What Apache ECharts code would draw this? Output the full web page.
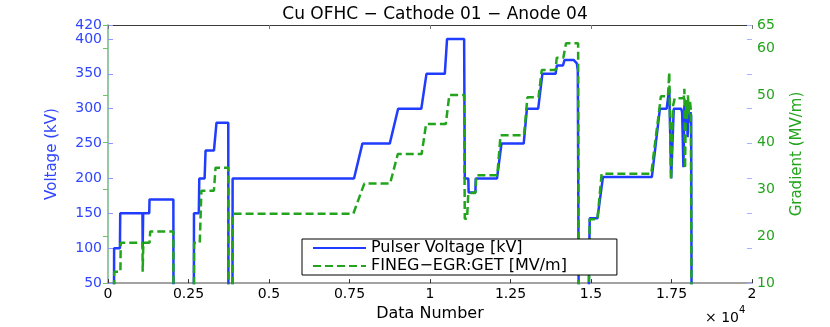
<!DOCTYPE html>
<html>
<head>
<meta charset="utf-8">
<script src="https://cdn.jsdelivr.net/npm/echarts@6/dist/echarts.min.js"></script>
<style>
  html, body { margin: 0; padding: 0; background: #fff; }
  #chart { width: 830px; height: 327px; }
</style>
</head>
<body>
<div id="chart"></div>
<script>
// data numbers (x) and values
const voltageX = [0, 185, 190, 370, 380, 1070, 1077, 1085, 1092, 1280, 1290, 2030, 2035, 2665, 2670, 2820, 2835, 3000, 3030, 3290, 3370, 3735, 3740, 3865, 3870, 7640, 7900, 8750, 9010, 9730, 9890, 10460, 10530, 11060, 11080, 11190, 11200, 11410, 11420, 12080, 12220, 12910, 13010, 13360, 13490, 13900, 13940, 14130, 14180, 14460, 14560, 14590, 14620, 14920, 14960, 15200, 15370, 16890, 17140, 17350, 17430, 17490, 17570, 17800, 17830, 17870, 17900, 17940, 17970, 18000, 18030, 18060, 18090, 18110, 18125];
const voltageKV = [0, 0, 100, 100, 150, 150, 100, 100, 150, 150, 170, 170, 0, 0, 150, 150, 200, 200, 240, 240, 280, 280, 0, 0, 200, 200, 250, 250, 300, 300, 350, 350, 400, 400, 200, 200, 180, 180, 200, 200, 250, 250, 300, 300, 350, 350, 362, 362, 370, 370, 365, 355, 0, 0, 143, 143, 202, 202, 300, 300, 329, 200, 300, 300, 295, 216, 305, 270, 300, 259, 300, 280, 295, 290, 0];

const gradientX = [0, 185, 192, 385, 395, 1070, 1077, 1090, 1097, 1290, 1310, 2030, 2035, 2665, 2675, 2850, 2900, 3290, 3340, 3735, 3740, 3865, 3870, 7620, 7960, 8760, 9000, 9740, 9880, 10490, 10600, 11060, 11080, 11150, 11190, 11410, 11440, 12090, 12190, 12920, 13025, 13370, 13470, 13900, 13935, 14140, 14225, 14600, 14620, 14920, 14960, 15200, 15330, 16870, 17130, 17170, 17390, 17430, 17485, 17550, 17600, 17880, 17900, 17920, 17950, 17980, 18010, 18040, 18070, 18100, 18125];
const gradientMV = [0, 0, 12.4, 12.4, 18.6, 18.6, 12.4, 12.4, 18.6, 18.6, 21, 21, 0, 0, 18.6, 18.6, 29.7, 29.7, 34.6, 34.6, 0, 0, 24.8, 24.8, 31.2, 31.2, 37.5, 37.5, 43.9, 43.9, 50.1, 50.1, 23.7, 23.7, 29.2, 29.2, 33, 33, 41.5, 41.5, 49.6, 49.6, 55.4, 55.4, 58, 58, 61.1, 61.1, 0, 0, 23.6, 23.6, 33.3, 33.3, 47.5, 49.8, 49.8, 54.9, 32, 47.8, 49.4, 49.4, 51.4, 34.4, 49, 45, 50, 46, 49, 47, 0];

const xTickStep = 2500;
const voltageTicks = { min: 50, max: 420, step: 50 };
const gradientTicks = { min: 10, max: 65, step: 10 };

const BLUE = '#1f3cff';
const GREEN = '#22a51c';
const FONT = 'DejaVu Sans';

const zip = (xs, ys) => xs.map((x, i) => [x, ys[i]]);

const chart = echarts.init(document.getElementById('chart'));

const option = {
  animation: false,
  backgroundColor: '#fff',
  title: {
    text: 'Cu OFHC \u2212 Cathode 01 \u2212 Anode 04',
    left: 430,
    top: 1,
    textAlign: 'center',
    textStyle: { fontFamily: FONT, fontSize: 17, fontWeight: 'normal', color: '#000' }
  },
  grid: { left: 108, right: 78, top: 25, bottom: 36 },
  legend: {
    orient: 'vertical',
    left: 302,
    top: 239,
    padding: [1, 50, 1, 10],
    itemGap: 2,
    itemWidth: 53,
    itemHeight: 14,
    backgroundColor: '#fff',
    borderColor: '#000',
    borderWidth: 1,
    borderRadius: 0,
    itemStyle: { opacity: 0 },
    textStyle: { fontFamily: FONT, fontSize: 16, color: '#000' },
    data: ['Pulser Voltage [kV]', 'FINEG\u2212EGR:GET [MV/m]']
  },
  xAxis: [
    {
      type: 'value',
      position: 'bottom',
      min: 0,
      max: 20000,
      interval: xTickStep,
      name: 'Data Number',
      nameLocation: 'middle',
      nameGap: 15,
      nameTextStyle: { fontFamily: FONT, fontSize: 16, color: '#000' },
      axisLine: { lineStyle: { color: '#858585', width: 1.5 } },
      axisTick: { inside: true, length: 4, lineStyle: { color: '#333' } },
      axisLabel: {
        margin: 4,
        fontFamily: FONT,
        fontSize: 14,
        color: '#000',
        formatter: v => String(v / 10000)
      },
      splitLine: { show: false }
    },
    {
      type: 'value',
      position: 'top',
      min: 0,
      max: 20000,
      interval: 5000,
      axisLine: { lineStyle: { color: '#3a3a3a', width: 1 } },
      axisTick: { inside: true, length: 4, lineStyle: { color: '#777' } },
      axisLabel: { show: false },
      splitLine: { show: false }
    }
  ],
  yAxis: [
    {
      type: 'value',
      position: 'left',
      min: voltageTicks.min,
      max: voltageTicks.max,
      interval: voltageTicks.step,
      name: 'Voltage (kV)',
      nameLocation: 'middle',
      nameGap: 48,
      nameTextStyle: { fontFamily: FONT, fontSize: 15, color: '#2f45ff' },
      axisLine: { show: true, lineStyle: { color: '#8f97ff', width: 1.5 } },
      axisTick: { inside: true, length: 5, lineStyle: { color: '#8f97ff' } },
      axisLabel: { margin: 6, fontFamily: FONT, fontSize: 14, color: '#2f45ff' },
      splitLine: { show: false }
    },
    {
      type: 'value',
      position: 'right',
      min: gradientTicks.min,
      max: gradientTicks.max,
      interval: gradientTicks.step,
      name: 'Gradient (MV/m)',
      nameLocation: 'middle',
      nameGap: 38,
      nameTextStyle: { fontFamily: FONT, fontSize: 15, color: GREEN },
      axisLine: { show: true, lineStyle: { color: '#8fd38a', width: 1.5 } },
      axisTick: { inside: true, length: 5, lineStyle: { color: '#6cc466' } },
      axisLabel: { margin: 5, fontFamily: FONT, fontSize: 14, color: GREEN },
      splitLine: { show: false }
    },
    {
      // blue ticks of the voltage scale mirrored on the right edge
      type: 'value',
      position: 'right',
      min: voltageTicks.min,
      max: voltageTicks.max,
      interval: voltageTicks.step,
      axisLine: { show: false },
      axisTick: { inside: true, length: 5, lineStyle: { color: '#a9b0ff' } },
      axisLabel: { show: false },
      splitLine: { show: false }
    }
  ],
  graphic: [
    {
      type: 'text',
      left: 705,
      top: 305,
      style: {
        text: '{a|\u00d7 10}{b|4}',
        rich: {
          a: { fontFamily: FONT, fontSize: 14, color: '#000', padding: [6, 0, 0, 0] },
          b: { fontFamily: FONT, fontSize: 10, color: '#000', verticalAlign: 'top' }
        }
      }
    }
  ],
  series: [
    {
      name: 'Pulser Voltage [kV]',
      type: 'line',
      xAxisIndex: 0,
      yAxisIndex: 0,
      data: zip(voltageX, voltageKV),
      showSymbol: false,
      symbol: 'none',
      clip: true,
      color: BLUE,
      lineStyle: { color: BLUE, width: 2.5 }
    },
    {
      name: 'FINEG\u2212EGR:GET [MV/m]',
      type: 'line',
      xAxisIndex: 0,
      yAxisIndex: 1,
      data: zip(gradientX, gradientMV),
      showSymbol: false,
      symbol: 'none',
      clip: true,
      color: GREEN,
      lineStyle: { color: GREEN, width: 2.5, type: [8, 4] }
    }
  ]
};

chart.setOption(option);
</script>
</body>
</html>
